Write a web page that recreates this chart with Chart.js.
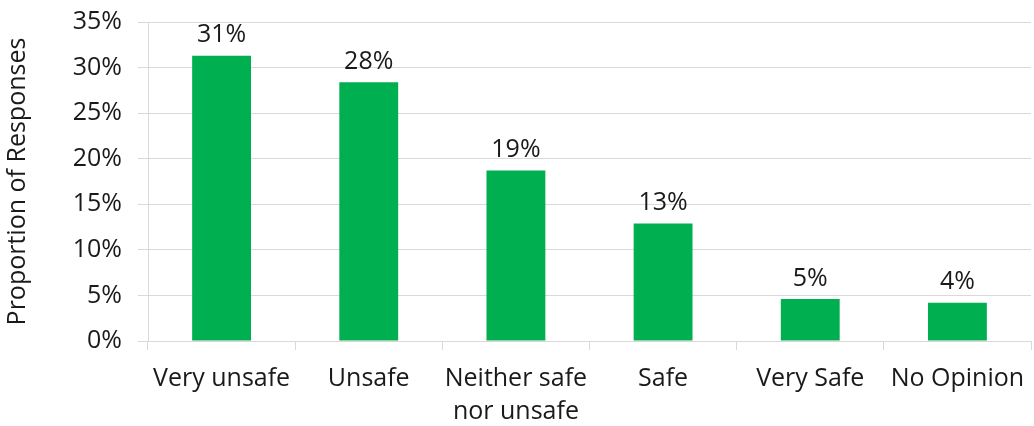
<!DOCTYPE html>
<html><head><meta charset="utf-8">
<script src="https://cdn.jsdelivr.net/npm/chart.js@4.4.1/dist/chart.umd.min.js"></script>
<style>html,body{margin:0;padding:0;background:#fff}#wrap{width:1034px;height:426px}</style>
</head><body><div id="wrap"><canvas id="c" width="1034" height="426"></canvas></div>
<script>
const categories = ['Very unsafe', 'Unsafe', ['Neither safe', 'nor unsafe'], 'Safe', 'Very Safe', 'No Opinion'];
const values = [31.3, 28.4, 18.7, 12.9, 4.6, 4.2];
const dataLabels = ['31%', '28%', '19%', '13%', '5%', '4%'];
const yTicks = [0, 5, 10, 15, 20, 25, 30, 35];
const yTitle = 'Proportion of Responses';

const FONT = 'Open Sans';
const FS = 25;
const TXT = '#1a1a1a';
const GRID = '#d9d9d9';

const labelPlugin = {
  id: 'barLabels',
  afterDatasetsDraw(chart) {
    const ctx = chart.ctx;
    const meta = chart.getDatasetMeta(0);
    ctx.save();
    ctx.font = FS + 'px "' + FONT + '"';
    ctx.fillStyle = TXT;
    ctx.textAlign = 'center';
    ctx.textBaseline = 'bottom';
    meta.data.forEach((bar, i) => {
      ctx.fillText(dataLabels[i], bar.x, bar.y - 8);
    });
    ctx.restore();
  }
};

new Chart(document.getElementById('c'), {
  type: 'bar',
  data: {
    labels: categories,
    datasets: [{
      data: values,
      backgroundColor: '#00B050',
      borderWidth: 0,
      categoryPercentage: 1.0,
      barPercentage: 0.4
    }]
  },
  options: {
    responsive: false,
    animation: false,
    layout: { padding: { top: 22, right: 3, left: 0, bottom: 0 } },
    plugins: { legend: { display: false }, tooltip: { enabled: false } },
    scales: {
      x: {
        grid: { display: true, drawOnChartArea: false, drawTicks: true, tickLength: 9, color: GRID, offset: true },
        border: { display: true, color: GRID, width: 1 },
        ticks: { font: { family: FONT, size: FS, lineHeight: 1.33 }, color: TXT, padding: 12, maxRotation: 0, autoSkip: false },
        afterFit(scale) { scale.height = 85; scale.paddingLeft = 0; scale.paddingRight = 0; }
      },
      y: {
        min: 0, max: 35,
        afterBuildTicks(scale) { scale.ticks = yTicks.map(v => ({ value: v })); },
        grid: { color: GRID, tickLength: 10, drawTicks: true },
        border: { display: true, color: GRID, width: 1 },
        ticks: { font: { family: FONT, size: FS }, color: TXT, padding: 16, callback: v => v + '%' },
        title: { display: true, text: yTitle, font: { family: FONT, size: FS }, color: TXT, padding: { top: 3, bottom: 4 } },
        afterFit(scale) { scale.width = 148; scale.paddingTop = 0; scale.paddingBottom = 0; }
      }
    }
  },
  plugins: [labelPlugin]
});
</script></body></html>
